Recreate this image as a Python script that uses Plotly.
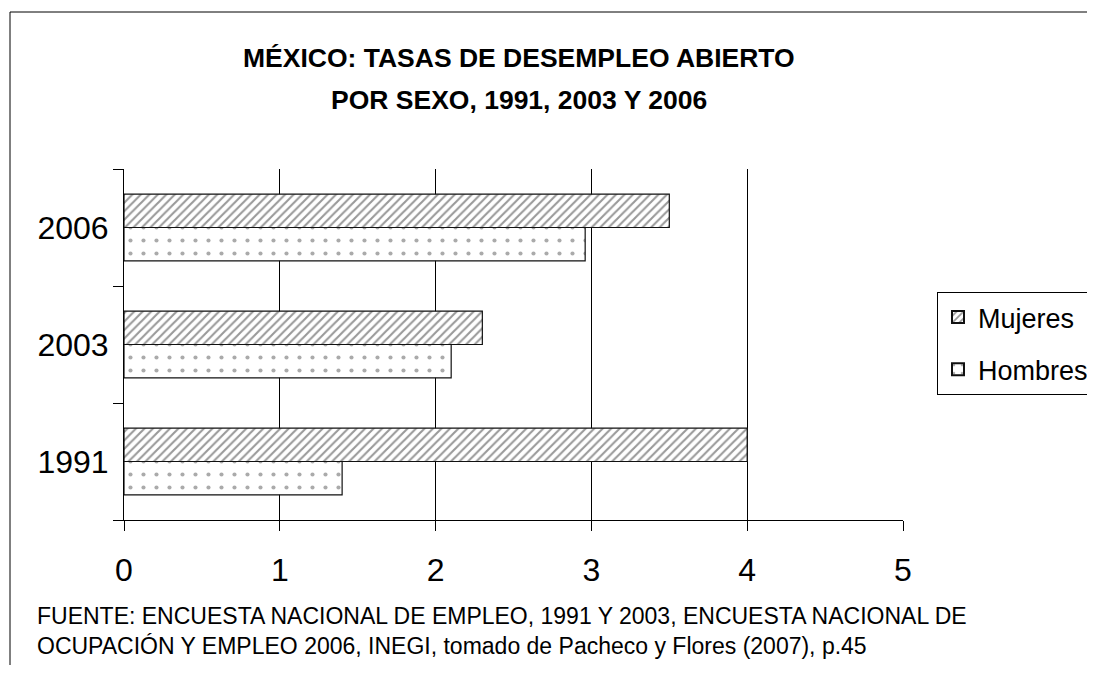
import plotly.graph_objects as go

years = ["1991", "2003", "2006"]
mujeres = [4.0, 2.3, 3.5]
hombres = [1.4, 2.1, 2.96]
x_ticks = [0, 1, 2, 3, 4, 5]

FONT = "Liberation Sans, Arial, sans-serif"
OFF = 8  # browser body margin

fig = go.Figure()
fig.add_trace(go.Bar(
    y=years, x=hombres, orientation="h", name="Hombres", legendgroup="h", legendrank=2,
    marker=dict(color="white", line=dict(color="#111", width=1.2),
                pattern=dict(shape=".", fgcolor="#555", bgcolor="white", size=13, solidity=0.08)),
))
fig.add_trace(go.Bar(
    y=years, x=mujeres, orientation="h", name="Mujeres", legendgroup="m", legendrank=1,
    marker=dict(color="white", line=dict(color="#111", width=1.2),
                pattern=dict(shape="/", fgcolor="#333", bgcolor="white", size=6, solidity=0.35)),
))

# reference pixel geometry
L, R, T, B = 124, 903, 169, 520
W, H = 1095 - 2 * OFF, 673 - 2 * OFF
pw, ph = R - L, B - T

def px(xp):
    return (xp - L) / pw

def py(yp):
    return (B - yp) / ph

fig.update_layout(
    width=W, height=H,
    margin=dict(l=L - OFF, r=W - (R - OFF), t=T - OFF, b=H - (B - OFF), pad=0, autoexpand=False),
    paper_bgcolor="white", plot_bgcolor="white",
    barmode="group", bargap=0.43, bargroupgap=0,
    font=dict(family=FONT, color="black"),
    showlegend=True,
    legend=dict(x=px(937), y=py(292), xanchor="left", yanchor="top",
                traceorder="grouped", bordercolor="black", borderwidth=1,
                font=dict(size=27, family=FONT), bgcolor="white",
                itemsizing="constant", tracegroupgap=14),
    xaxis=dict(range=[0, 5], tickvals=x_ticks, ticktext=[str(v) for v in x_ticks],
               showgrid=True, gridcolor="black", gridwidth=1,
               showline=True, linecolor="black", linewidth=1,
               ticks="outside", ticklen=10, tickcolor="black", ticklabelstandoff=12,
               tickfont=dict(size=32, family=FONT), zeroline=False, fixedrange=True),
    yaxis=dict(type="category", categoryorder="array", categoryarray=years,
               showline=True, linecolor="black", linewidth=1,
               ticks="outside", ticklen=10, tickcolor="black", tickson="boundaries",
               ticklabelstandoff=8,
               tickfont=dict(size=32, family=FONT), showgrid=False, fixedrange=True),
)

# title
fig.add_annotation(text="<b>MÉXICO: TASAS DE DESEMPLEO ABIERTO</b>", xref="paper", yref="paper",
                   x=px(519), y=py(58), xanchor="center", yanchor="middle",
                   showarrow=False, font=dict(size=26.5, family=FONT))
fig.add_annotation(text="<b>POR SEXO, 1991, 2003 Y 2006</b>", xref="paper", yref="paper",
                   x=px(519), y=py(100), xanchor="center", yanchor="middle",
                   showarrow=False, font=dict(size=26.5, family=FONT))
# source
fig.add_annotation(text="FUENTE: ENCUESTA NACIONAL DE EMPLEO, 1991 Y 2003, ENCUESTA NACIONAL DE",
                   xref="paper", yref="paper", x=px(35), y=py(616), xanchor="left", yanchor="middle",
                   showarrow=False, font=dict(size=23, family=FONT))
fig.add_annotation(text="OCUPACIÓN Y EMPLEO 2006, INEGI, tomado de Pacheco y Flores (2007), p.45",
                   xref="paper", yref="paper", x=px(35), y=py(646), xanchor="left", yanchor="middle",
                   showarrow=False, font=dict(size=23, family=FONT))

# outer frame (left and top borders)
fig.add_shape(type="line", xref="paper", yref="paper", x0=px(10), x1=px(10), y0=py(12), y1=py(700),
              line=dict(color="black", width=1))
fig.add_shape(type="line", xref="paper", yref="paper", x0=px(10), x1=px(1100), y0=py(12), y1=py(12),
              line=dict(color="black", width=1))

fig.write_html("out.html")
